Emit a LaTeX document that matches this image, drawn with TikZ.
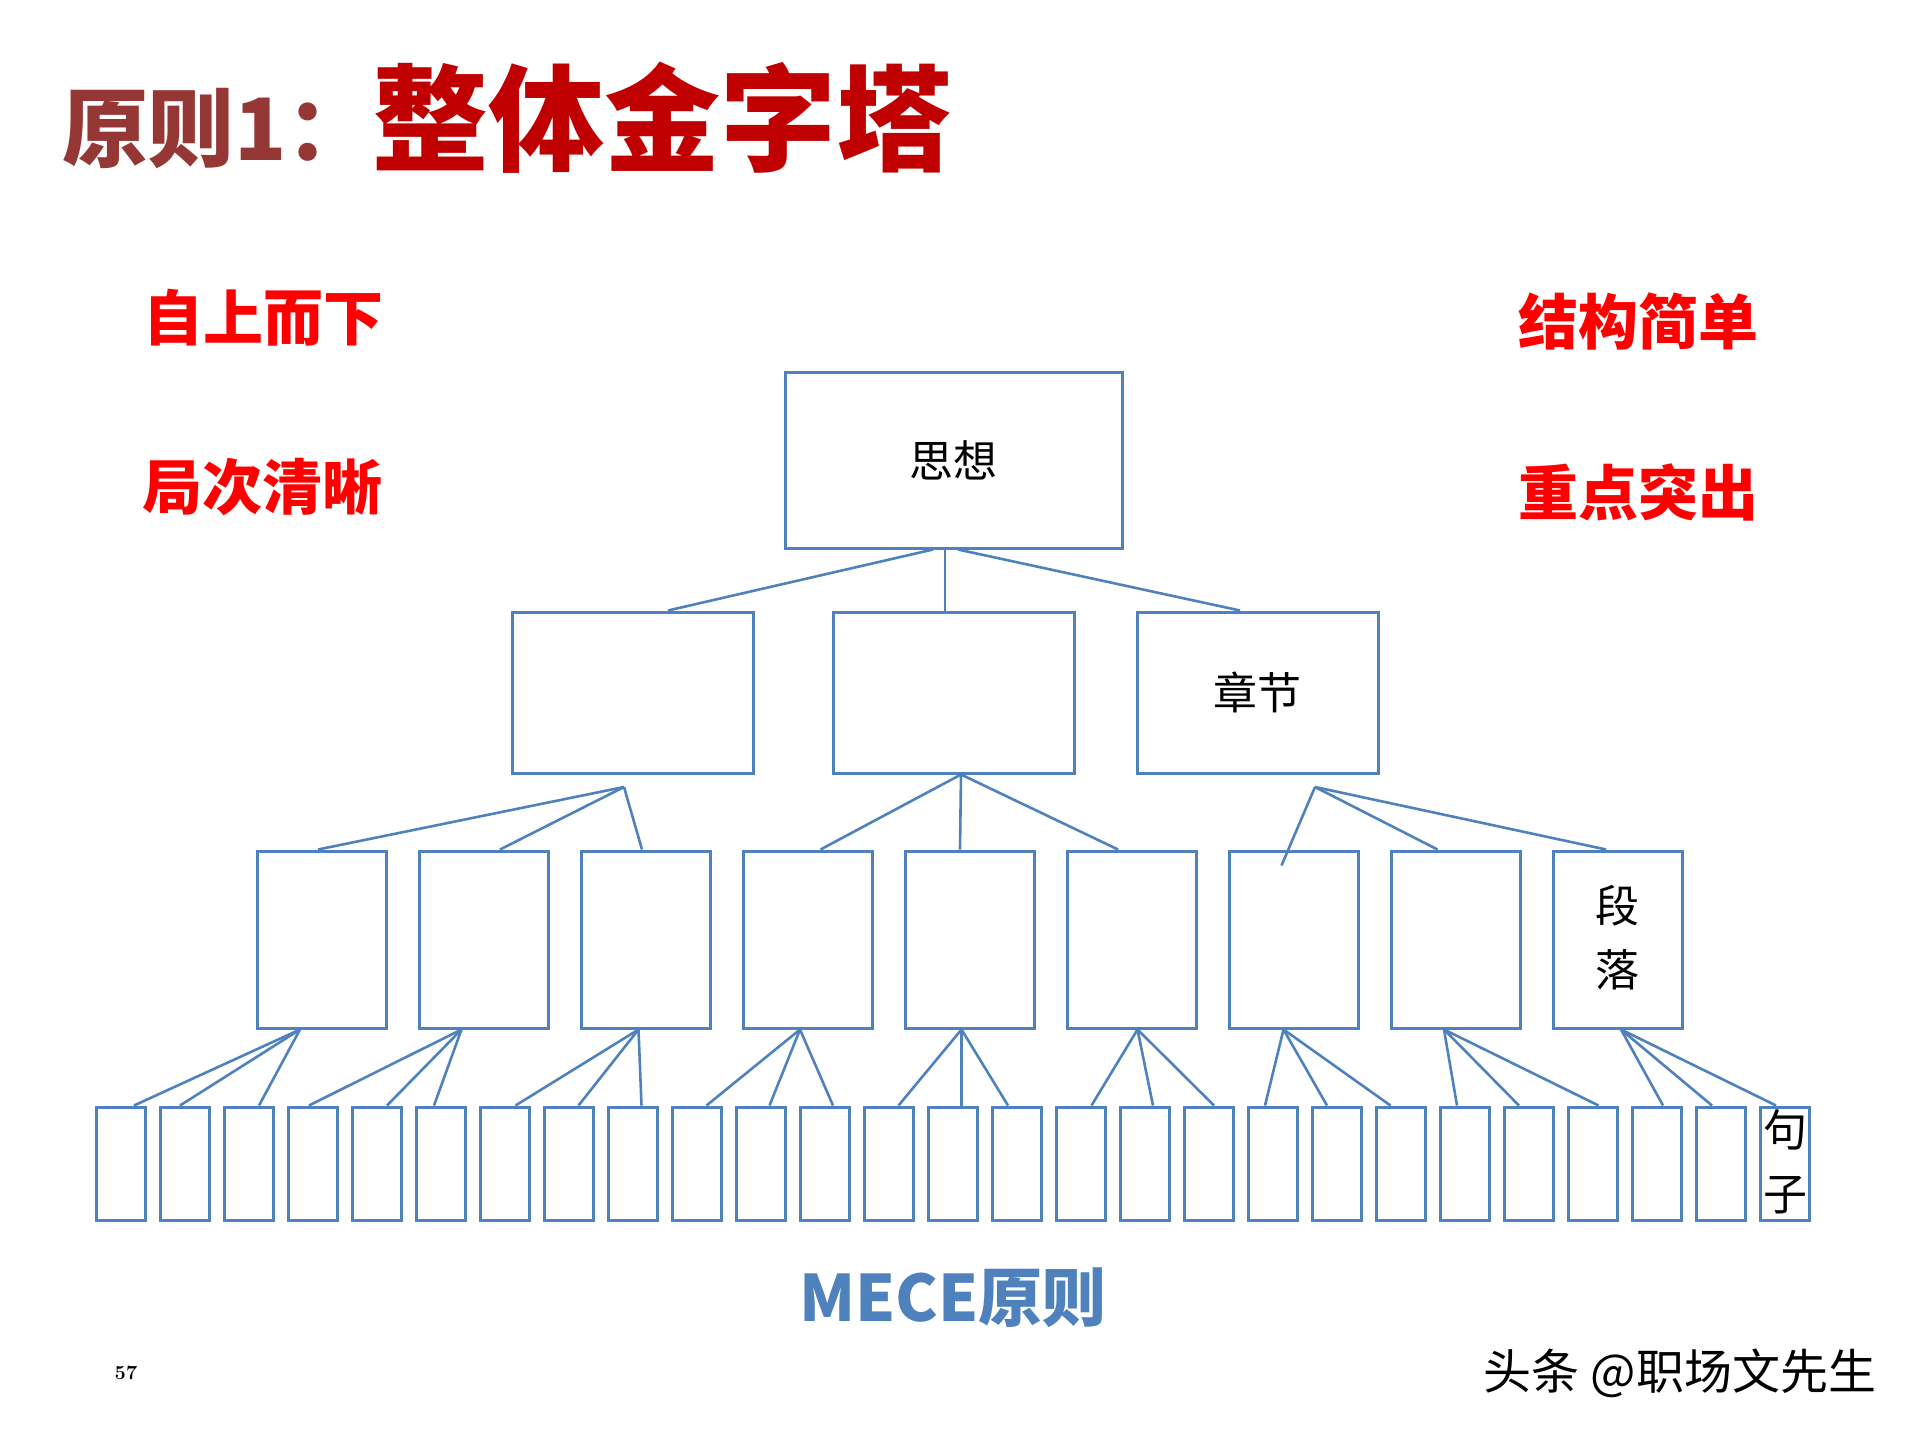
\documentclass[tikz,border=0pt]{standalone}
\usepackage{fontspec}
\newfontfamily\cjk{Noto Sans CJK SC}
\definecolor{titledark}{HTML}{953735}
\definecolor{titlered}{HTML}{C00000}
\definecolor{boxblue}{HTML}{4F81BD}
\definecolor{labred}{HTML}{FF0000}
\tikzset{
  bx/.style={draw=boxblue,line width=3pt,rectangle,inner sep=0pt,fill=white},
  topbox/.style={bx,minimum width=337pt,minimum height=176pt},
  midbox/.style={bx,minimum width=241pt,minimum height=161pt},
  parbox/.style={bx,minimum width=129pt,minimum height=177pt},
  senbox/.style={bx,minimum width=49pt,minimum height=113pt},
  conn/.style={draw=boxblue,line width=2.6pt},
  lab/.style={inner sep=0pt,text=labred,font=\cjk\bfseries\fontsize{60}{66}\selectfont},
  blk/.style={inner sep=0pt,text=black,font=\cjk\fontsize{44}{64}\selectfont,align=center}
}
\begin{document}
\begin{tikzpicture}[x=1pt,y=-1pt]
\useasboundingbox (0,0) rectangle (1920,1440);
% title
\node[anchor=base west,inner sep=0pt,text=titledark,font=\cjk\bfseries\fontsize{86}{90}\selectfont] (t1) at (62,160) {原则1：};
\node[anchor=base west,inner sep=0pt,text=titlered,font=\cjk\bfseries\fontsize{116}{120}\selectfont] (t2) at (372,162) {整体金字塔};
% side labels
\node[lab] (l1) at (263,318) {自上而下};
\node[lab] (l2) at (262,487) {局次清晰};
\node[lab] (l3) at (1638,321) {结构简单};
\node[lab] (l4) at (1638,492) {重点突出};
% boxes
\node[topbox] (top) at (953.5,460) {};
\node[blk] (toptext) at (953.5,460) {思想};
\node[midbox] (r2a) at (633,692.5) {};
\node[midbox] (r2b) at (953.5,692.5) {};
\node[midbox] (r2c) at (1257.5,692.5) {};
\node[blk] (r2text) at (1257.5,692.5) {章节};
\foreach \i in {1,...,9}
  \node[parbox] (r3-\i) at ({321.5+162*(\i-1)},939.5) {};
\foreach \i in {0,...,26}
  \node[senbox] (r4-\i) at ({120.5+64*\i},1163.5) {};
\node[blk] (r3text) at (1617.5,938) {段\\落};
\node[blk] (r4text) at (1785,1162) {句\\子};
% connectors level 1 -> 2
\draw[conn] ([xshift=-20.5pt]top.south) -- ([xshift=35pt]r2a.north);
\draw[conn] ([xshift=-8.5pt]top.south) -- ([xshift=-8.5pt]r2b.north);
\draw[conn] ([xshift=4.5pt]top.south) -- ([xshift=-17.5pt]r2c.north);
% connectors level 2 -> 3
\coordinate (ap1) at (624,787);
\coordinate (ap3) at (1315,787);
\draw[conn] (ap1) -- ([xshift=-3.5pt]r3-1.north);
\draw[conn] (ap1) -- ([xshift=16.5pt]r3-2.north);
\draw[conn] (ap1) -- ([xshift=-3.5pt]r3-3.north);
\draw[conn] ([xshift=7.5pt]r2b.south) -- ([xshift=13pt]r3-4.north);
\draw[conn] ([xshift=7.5pt]r2b.south) -- ([xshift=-9.5pt]r3-5.north);
\draw[conn] ([xshift=7.5pt]r2b.south) -- ([xshift=-13.5pt]r3-6.north);
\draw[conn] (ap3) -- ([xshift=-12pt,yshift=-16pt]r3-7.north);
\draw[conn] (ap3) -- ([xshift=-18pt]r3-8.north);
\draw[conn] (ap3) -- ([xshift=-11.5pt]r3-9.north);
% connectors level 3 -> 4
\foreach \p/\a/\ca/\da/\cb/\db/\cc/\dc in {
  1/-21.5/0/13.5/1/-4.5/2/10.5,
  2/-22/3/-3.5/4/10.5/5/-6.5,
  3/-7/6/11/7/10/8/9,
  4/-7.5/9/10/10/9/11/8.5,
  5/-8/12/10/13/9/14/-8.5,
  6/6/15/11/16/8.5/17/5.5,
  7/-10/18/-7.5/19/-9.5/20/-10,
  8/-11.5/21/-7.5/22/-9.5/23/6,
  9/3.5/24/6.5/25/-8.5/26/-8.5}{
  \draw[conn] ([xshift=\a pt]r3-\p.south) -- ([xshift=\da pt]r4-\ca.north);
  \draw[conn] ([xshift=\a pt]r3-\p.south) -- ([xshift=\db pt]r4-\cb.north);
  \draw[conn] ([xshift=\a pt]r3-\p.south) -- ([xshift=\dc pt]r4-\cc.north);
}
% bottom texts
\node[inner sep=0pt,text=boxblue,font=\cjk\bfseries\fontsize{64}{70}\selectfont] (mece) at (953,1298) {MECE原则};
\node[inner sep=0pt,font=\bfseries\fontsize{20}{24}\selectfont] (pg) at (126,1373) {57};
\node[inner sep=0pt,font=\cjk\fontsize{48}{52}\selectfont] (wm) at (1680,1373) {头条 @职场文先生};
\end{tikzpicture}
\end{document}
